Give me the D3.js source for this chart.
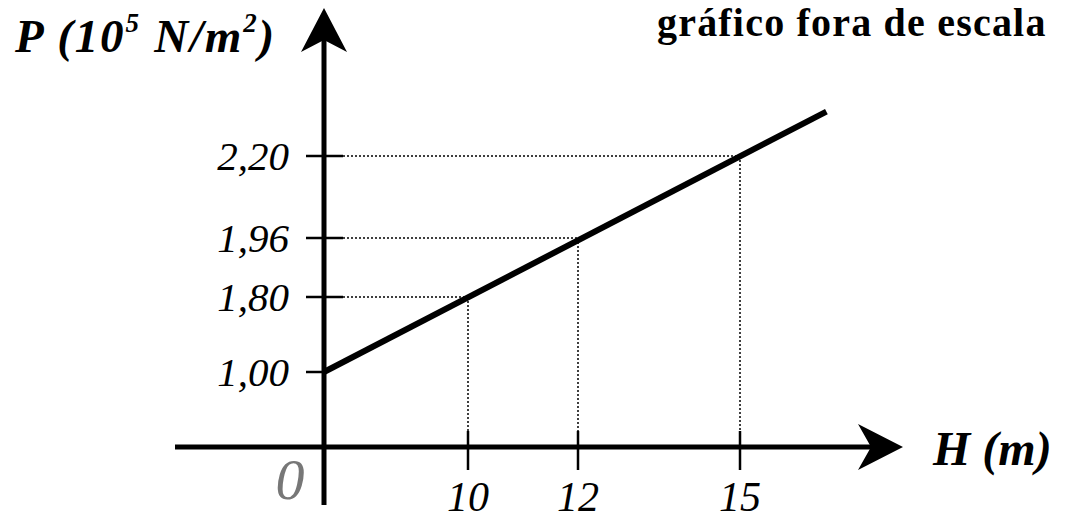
<!DOCTYPE html>
<html>
<head>
<meta charset="utf-8">
<script src="https://cdn.jsdelivr.net/npm/d3@7"></script>
<style>
  body { margin: 0; background: #fff; }
  svg { display: block; }
</style>
</head>
<body>
<script>
// data (chart is "fora de escala": each interval has its own spacing)
var hTicks = [10, 12, 15];
var pTicks = [1.00, 1.80, 1.96, 2.20];
var hLine = [0, 10, 12, 15, 16.6];
var pLine = [1.00, 1.80, 1.96, 2.20, 2.33];
var hLabels = ["10", "12", "15"];
var pLabels = ["1,00", "1,80", "1,96", "2,20"];

var width = 1072, height = 527;

var svg = d3.select("body")
    .append("svg")
    .attr("width", width)
    .attr("height", height);

// piecewise scales, since the drawing is out of scale
var x = d3.scaleLinear()
    .domain([0, 10, 12, 15])
    .range([324, 468, 578, 740]);

var y = d3.scaleLinear()
    .domain([1.00, 1.80, 1.96, 2.20])
    .range([372, 297, 238, 156]);

var axisY = 447;   // vertical position of the H axis
var axisX = x(0);  // horizontal position of the P axis

var serif = "'Liberation Serif', 'Times New Roman', serif";

// -------------------------------------------------------------------------- //
//                              GUIDE LINES                                   //
// -------------------------------------------------------------------------- //

var guides = svg.append("g")
    .attr("stroke", "#000")
    .attr("stroke-width", 1.5)
    .attr("stroke-dasharray", "2,2")
    .attr("fill", "none");

hTicks.forEach(function(h, i) {
    var p = pLine[hLine.indexOf(h)];
    guides.append("line")
        .attr("x1", axisX + 19).attr("x2", x(h))
        .attr("y1", y(p)).attr("y2", y(p));
    guides.append("line")
        .attr("x1", x(h)).attr("x2", x(h))
        .attr("y1", y(p)).attr("y2", axisY - 16);
});

// -------------------------------------------------------------------------- //
//                                  AXES                                      //
// -------------------------------------------------------------------------- //

svg.append("line")
    .attr("x1", 175).attr("x2", 875)
    .attr("y1", axisY).attr("y2", axisY)
    .attr("stroke", "#000").attr("stroke-width", 5);

svg.append("line")
    .attr("x1", axisX).attr("x2", axisX)
    .attr("y1", 505).attr("y2", 30)
    .attr("stroke", "#000").attr("stroke-width", 5);

// arrow heads
svg.append("path")
    .attr("d", "M" + 903 + "," + axisY + " L858," + (axisY - 23) +
               " L871," + axisY + " L858," + (axisY + 23) + "Z")
    .attr("fill", "#000");

svg.append("path")
    .attr("d", "M" + axisX + ",8 L" + (axisX + 23) + ",52 L" + axisX +
               ",40 L" + (axisX - 23) + ",52Z")
    .attr("fill", "#000");

// H ticks
svg.selectAll(".htick")
    .data(hTicks)
    .enter().append("line")
    .attr("class", "htick")
    .attr("x1", function(d) { return x(d); })
    .attr("x2", function(d) { return x(d); })
    .attr("y1", axisY - 16).attr("y2", axisY + 23)
    .attr("stroke", "#000").attr("stroke-width", 2.5);

// P ticks
svg.selectAll(".ptick")
    .data(pTicks)
    .enter().append("line")
    .attr("class", "ptick")
    .attr("x1", axisX - 18)
    .attr("x2", function(d) { return d === 1 ? axisX : axisX + 19; })
    .attr("y1", function(d) { return y(d); })
    .attr("y2", function(d) { return y(d); })
    .attr("stroke", "#000").attr("stroke-width", 2.5);

// tick labels
svg.selectAll(".hlabel")
    .data(hTicks)
    .enter().append("text")
    .attr("class", "hlabel")
    .attr("x", function(d) { return x(d); })
    .attr("y", 511)
    .attr("text-anchor", "middle")
    .style("font-family", serif)
    .style("font-style", "italic")
    .style("font-size", "42px")
    .text(function(d, i) { return hLabels[i]; });

svg.selectAll(".plabel")
    .data(pTicks)
    .enter().append("text")
    .attr("class", "plabel")
    .attr("x", 289)
    .attr("y", function(d) { return y(d) + 14; })
    .attr("text-anchor", "end")
    .style("font-family", serif)
    .style("font-style", "italic")
    .style("font-size", "41px")
    .text(function(d, i) { return pLabels[i]; });

svg.append("text")
    .attr("x", 290).attr("y", 499)
    .attr("text-anchor", "middle")
    .style("font-family", serif)
    .style("font-style", "italic")
    .style("font-size", "58px")
    .style("fill", "#777")
    .text("0");

// -------------------------------------------------------------------------- //
//                                  LINE                                      //
// -------------------------------------------------------------------------- //

var lineFunction = d3.line()
    .x(function(d) { return x(d[0]); })
    .y(function(d) { return y(d[1]); });

svg.append("path")
    .attr("d", lineFunction([[hLine[0], pLine[0]],
                             [hLine[hLine.length - 1], pLine[pLine.length - 1]]]))
    .attr("stroke", "#000")
    .attr("stroke-width", 6)
    .attr("fill", "none");

// -------------------------------------------------------------------------- //
//                                 TITLES                                     //
// -------------------------------------------------------------------------- //

var pTitle = svg.append("text")
    .attr("x", 15).attr("y", 52)
    .style("font-family", serif)
    .style("font-style", "italic")
    .style("font-weight", "bold")
    .style("font-size", "47px")
    .style("letter-spacing", "1.8px");
pTitle.append("tspan").text("P (10");
pTitle.append("tspan").attr("dy", -20).style("font-size", "27px").text("5");
pTitle.append("tspan").attr("dy", 20).text(" N/m");
pTitle.append("tspan").attr("dy", -20).style("font-size", "27px").text("2");
pTitle.append("tspan").attr("dy", 20).text(")");

svg.append("text")
    .attr("x", 933).attr("y", 465)
    .style("font-family", serif)
    .style("font-style", "italic")
    .style("font-weight", "bold")
    .style("font-size", "48px")
    .text("H (m)");

svg.append("text")
    .attr("x", 657).attr("y", 36)
    .style("font-family", serif)
    .style("font-weight", "bold")
    .style("font-size", "40px")
    .style("letter-spacing", "1.2px")
    .text("gráfico fora de escala");
</script>
</body>
</html>
